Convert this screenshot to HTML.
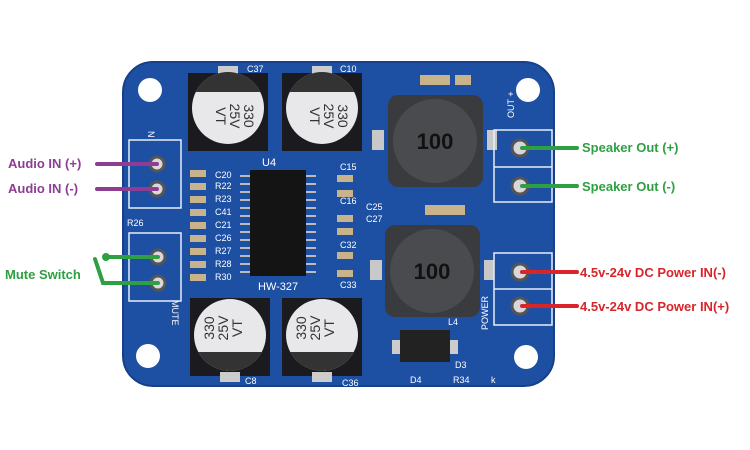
<!DOCTYPE html>
<html><head><meta charset="utf-8"><style>
html,body{margin:0;padding:0;background:#fff;width:750px;height:450px;overflow:hidden}
svg{display:block}
text{font-family:"Liberation Sans",sans-serif}
</style></head><body>
<svg width="750" height="450" viewBox="0 0 750 450" xmlns="http://www.w3.org/2000/svg">
<defs>
<clipPath id="ct1"><circle cx="228" cy="108" r="36"/></clipPath>
<clipPath id="ct2"><circle cx="322" cy="108" r="36"/></clipPath>
<clipPath id="cb1"><circle cx="230" cy="335" r="36"/></clipPath>
<clipPath id="cb2"><circle cx="322" cy="335" r="36"/></clipPath>
</defs>
<rect x="123" y="62" width="431" height="324" rx="30" fill="#1d4fa3"/>
<rect x="123" y="62" width="431" height="324" rx="30" fill="none" stroke="#16408a" stroke-width="2"/>
<g fill="#fff"><circle cx="150" cy="90" r="12"/><circle cx="528" cy="90" r="12"/><circle cx="148" cy="356" r="12"/><circle cx="526" cy="357" r="12"/></g>
<!-- top caps -->
<rect x="188" y="73" width="80" height="78" fill="#1a1a1f"/>
<rect x="282" y="73" width="80" height="78" fill="#1a1a1f"/>
<rect x="218" y="66" width="20" height="10" fill="#ccc"/><rect x="312" y="66" width="20" height="10" fill="#ccc"/>
<circle cx="228" cy="108" r="36" fill="#e8e8ea"/><rect x="190" y="70" width="80" height="22" fill="#333" clip-path="url(#ct1)"/>
<circle cx="322" cy="108" r="36" fill="#e8e8ea"/><rect x="284" y="70" width="80" height="22" fill="#333" clip-path="url(#ct2)"/>
<g font-size="14" fill="#333" text-anchor="middle">
<text transform="translate(228 116) rotate(90)"><tspan x="0" y="-16">330</tspan><tspan x="0" y="-2">25V</tspan><tspan x="0" y="12">VT</tspan></text>
<text transform="translate(322 116) rotate(90)"><tspan x="0" y="-16">330</tspan><tspan x="0" y="-2">25V</tspan><tspan x="0" y="12">VT</tspan></text>
</g>
<!-- bottom caps -->
<rect x="190" y="298" width="80" height="78" fill="#1a1a1f"/>
<rect x="282" y="298" width="80" height="78" fill="#1a1a1f"/>
<circle cx="230" cy="335" r="36" fill="#e8e8ea"/><rect x="190" y="352" width="80" height="24" fill="#333" clip-path="url(#cb1)"/>
<circle cx="322" cy="335" r="36" fill="#e8e8ea"/><rect x="282" y="352" width="80" height="24" fill="#333" clip-path="url(#cb2)"/>
<rect x="220" y="372" width="20" height="10" fill="#ccc"/><rect x="312" y="372" width="20" height="10" fill="#ccc"/>
<g font-size="14" fill="#333" text-anchor="middle">
<text transform="translate(230 328) rotate(-90)"><tspan x="0" y="-16">330</tspan><tspan x="0" y="-2">25V</tspan><tspan x="0" y="12">VT</tspan></text>
<text transform="translate(322 328) rotate(-90)"><tspan x="0" y="-16">330</tspan><tspan x="0" y="-2">25V</tspan><tspan x="0" y="12">VT</tspan></text>
</g>
<!-- IC -->
<rect x="250" y="170" width="56" height="106" fill="#141414"/>
<g stroke="#bbb" stroke-width="2">
<path d="M240 176h10M240 184h10M240 192h10M240 200h10M240 208h10M240 216h10M240 224h10M240 232h10M240 240h10M240 248h10M240 256h10M240 264h10M240 272h10"/>
<path d="M306 176h10M306 184h10M306 192h10M306 200h10M306 208h10M306 216h10M306 224h10M306 232h10M306 240h10M306 248h10M306 256h10M306 264h10M306 272h10"/>
</g>
<text x="262" y="166" font-size="11" fill="#fff">U4</text>
<text x="258" y="290" font-size="11" fill="#fff">HW-327</text>
<g fill="#c9b38a">
<rect x="190" y="170" width="16" height="7"/><rect x="190" y="183" width="16" height="7"/><rect x="190" y="196" width="16" height="7"/><rect x="190" y="209" width="16" height="7"/><rect x="190" y="222" width="16" height="7"/><rect x="190" y="235" width="16" height="7"/><rect x="190" y="248" width="16" height="7"/><rect x="190" y="261" width="16" height="7"/><rect x="190" y="274" width="16" height="7"/>
<rect x="337" y="175" width="16" height="7"/><rect x="337" y="190" width="16" height="7"/><rect x="337" y="215" width="16" height="7"/><rect x="337" y="228" width="16" height="7"/><rect x="337" y="252" width="16" height="7"/><rect x="337" y="270" width="16" height="7"/>
<rect x="420" y="75" width="30" height="10"/><rect x="455" y="75" width="16" height="10"/><rect x="425" y="205" width="40" height="10"/>
</g>
<g font-size="9" fill="#fff">
<text x="215" y="178">C20</text><text x="215" y="189">R22</text><text x="215" y="202">R23</text><text x="215" y="215">C41</text><text x="215" y="228">C21</text><text x="215" y="241">C26</text><text x="215" y="254">R27</text><text x="215" y="267">R28</text><text x="215" y="280">R30</text>
<text x="340" y="170">C15</text><text x="340" y="204">C16</text><text x="366" y="210">C25</text><text x="366" y="222">C27</text><text x="340" y="248">C32</text><text x="340" y="288">C33</text>
<text x="247" y="72">C37</text><text x="340" y="72">C10</text><text x="245" y="384">C8</text><text x="342" y="386">C36</text>
<text x="127" y="226">R26</text><text x="410" y="383">D4</text><text x="453" y="383">R34</text><text x="491" y="383">k</text>
<text x="448" y="325">L4</text><text x="455" y="368">D3</text>
</g>
<!-- inductors -->
<rect x="388" y="95" width="95" height="92" rx="10" fill="#3a3b3e"/>
<circle cx="435" cy="141" r="42" fill="#4a4b4e"/>
<text x="435" y="149" font-size="22" font-weight="bold" text-anchor="middle" fill="#111">100</text>
<rect x="385" y="225" width="95" height="92" rx="10" fill="#3a3b3e"/>
<circle cx="432" cy="271" r="42" fill="#4a4b4e"/>
<text x="432" y="279" font-size="22" font-weight="bold" text-anchor="middle" fill="#111">100</text>
<g fill="#c8c8c8"><rect x="372" y="130" width="12" height="20"/><rect x="487" y="130" width="10" height="20"/><rect x="370" y="260" width="12" height="20"/><rect x="484" y="260" width="10" height="20"/></g>
<rect x="400" y="330" width="50" height="32" fill="#222"/>
<rect x="392" y="340" width="8" height="14" fill="#ccc"/><rect x="450" y="340" width="8" height="14" fill="#ccc"/>
<!-- terminals -->
<g fill="none" stroke="#e8eef8" stroke-width="1.5">
<rect x="129" y="140" width="52" height="68"/><rect x="129" y="233" width="52" height="68"/>
<rect x="494" y="130" width="58" height="72"/><path d="M494 167h58"/>
<rect x="494" y="253" width="58" height="72"/><path d="M494 289h58"/>
</g>
<g fill="#d8d8dc" stroke="#555" stroke-width="3">
<circle cx="157" cy="164" r="7"/><circle cx="157" cy="189" r="7"/><circle cx="158" cy="257" r="7"/><circle cx="158" cy="283" r="7"/>
<circle cx="520" cy="148" r="8"/><circle cx="520" cy="186" r="8"/><circle cx="520" cy="272" r="8"/><circle cx="520" cy="306" r="8"/>
</g>
<text x="148" y="135" font-size="9" fill="#fff" transform="rotate(90 150 133)">N</text>
<text x="510" y="122" font-size="9" fill="#fff" transform="rotate(-90 510 118)">OUT +</text>
<text x="488" y="330" font-size="9" fill="#fff" transform="rotate(-90 488 330)">POWER</text>
<text x="172" y="300" font-size="9" fill="#fff" transform="rotate(90 172 300)">MUTE</text>
<!-- connectors -->
<g stroke-width="4" stroke-linecap="round" fill="none">
<path d="M97 164H157M97 189H157" stroke="#8d3d93"/>
<path d="M106 257H158M95 259L103 283H158" stroke="#2ea043"/>
<path d="M522 148H577M522 186H577" stroke="#2ea043"/>
<path d="M522 272H577M522 306H577" stroke="#d9242a"/>
</g>
<circle cx="106" cy="257" r="4" fill="#2ea043"/>
<g font-size="13" font-weight="bold">
<text x="8" y="168" fill="#8d3d93">Audio IN (+)</text>
<text x="8" y="193" fill="#8d3d93">Audio IN (-)</text>
<text x="5" y="279" fill="#2ea043">Mute Switch</text>
<text x="582" y="152" fill="#2ea043">Speaker Out (+)</text>
<text x="582" y="191" fill="#2ea043">Speaker Out (-)</text>
<text x="580" y="277" fill="#d9242a">4.5v-24v DC Power IN(-)</text>
<text x="580" y="311" fill="#d9242a">4.5v-24v DC Power IN(+)</text>
</g>
</svg>
</body></html>
